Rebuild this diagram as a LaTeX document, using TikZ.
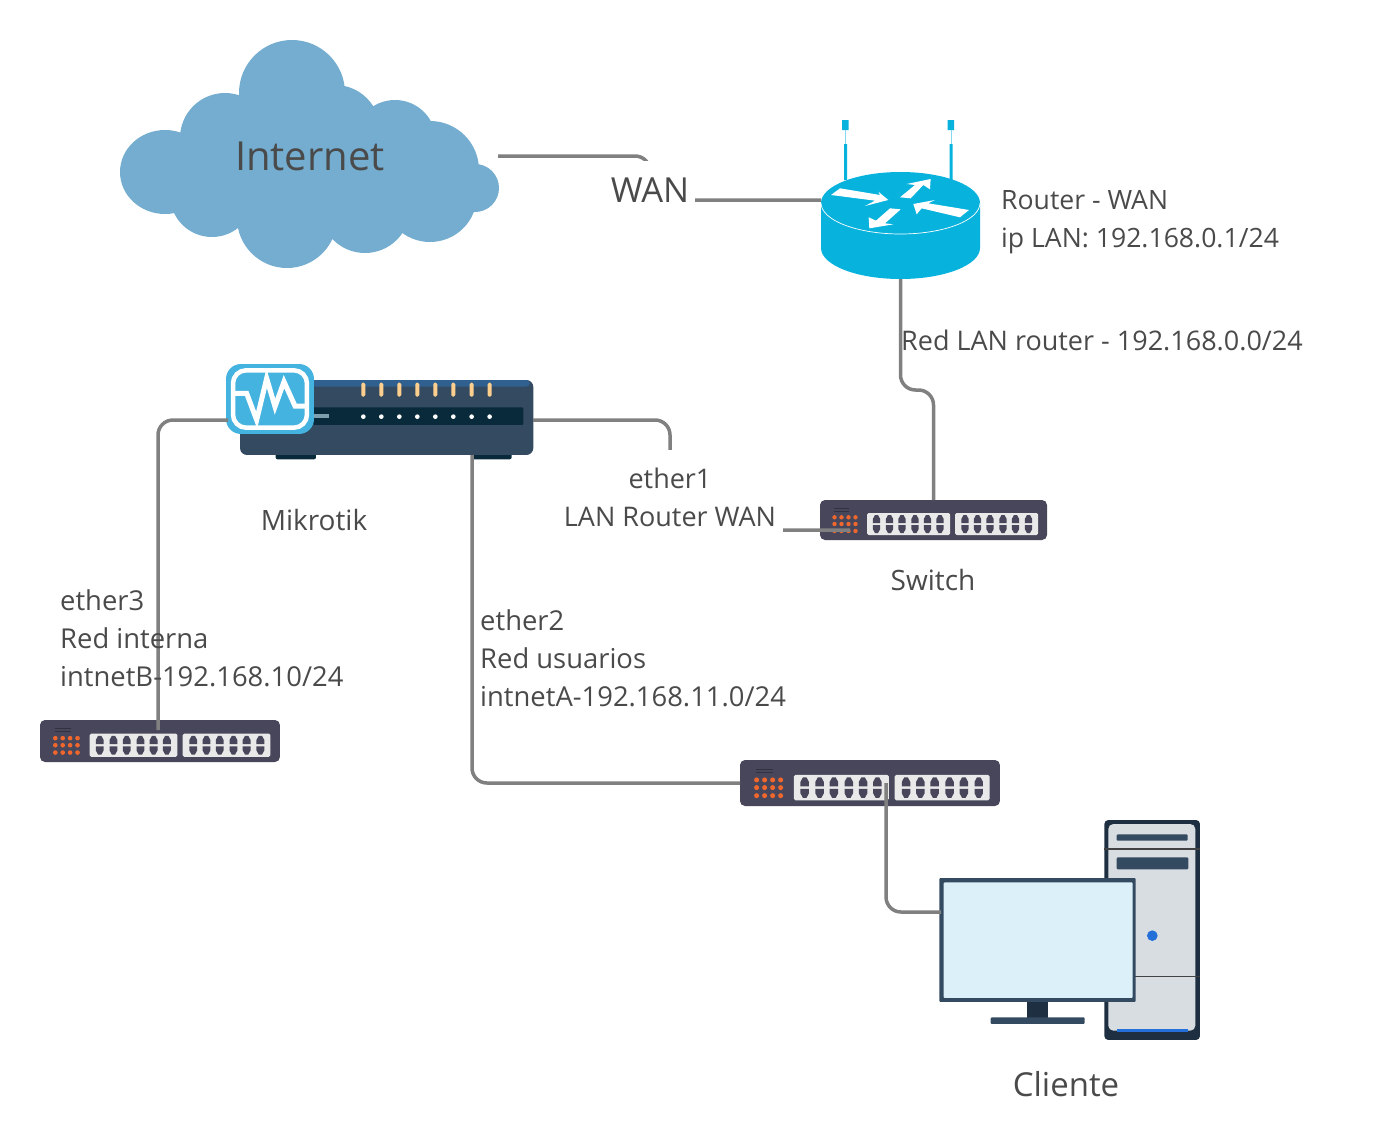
\documentclass[tikz,border=0pt]{standalone}
\usepackage{fontspec}
\setmainfont{Open Sans}
\usepackage{tikz}
\usetikzlibrary{positioning}
\definecolor{cloudblue}{HTML}{74ADCF}
\definecolor{routerblue}{HTML}{07B2DD}
\definecolor{linkgray}{HTML}{808080}
\definecolor{labelgray}{HTML}{4A4A4A}
\definecolor{switchbody}{HTML}{47465A}
\definecolor{switchpanel}{HTML}{E9E9E9}
\definecolor{switchdot}{HTML}{F0672E}
\definecolor{navy}{HTML}{344A61}
\definecolor{deepnavy}{HTML}{1E2F41}
\definecolor{barnavy}{HTML}{082A3B}
\definecolor{topstrip}{HTML}{2F6090}
\definecolor{ledorange}{HTML}{FCCF8E}
\definecolor{badgeblue}{HTML}{45B3E0}
\definecolor{towergray}{HTML}{D8DDE1}
\definecolor{screenblue}{HTML}{DCF0FA}
\definecolor{pilotblue}{HTML}{2470D8}
\tikzset{
    switch_icon/.pic={
        \fill[switchbody, rounded corners=5pt] (0,0) rectangle (227,40);
        \draw[switchbody!70!black, line width=0.5pt] (14,8) -- (29,8) (14,11) -- (29,11);
        \foreach \dotx in {14.5,21.5,28.5,35.5}
            \foreach \doty in {17.3,24,31}
                \fill[switchdot] (\dotx,\doty) circle (2.2);
        \fill[switchpanel, rounded corners=1.5pt] (47,13) rectangle (130,35);
        \fill[switchpanel, rounded corners=1.5pt] (135,13) rectangle (218,35);
        \foreach \portx in {56.5,69.5,82,95,107.5,120,145,157.5,170,183,195.5,208.5} {
            \fill[switchbody] (\portx-3.7,23) -- (\portx-3.7,19) -- (\portx-1.5,15) -- (\portx+1.5,15) -- (\portx+3.7,19) -- (\portx+3.7,23) -- cycle;
            \fill[switchbody] (\portx-3.7,25) -- (\portx-3.7,29) -- (\portx-1.5,33) -- (\portx+1.5,33) -- (\portx+3.7,29) -- (\portx+3.7,25) -- cycle;
        }
    },
}
\begin{document}
\begin{tikzpicture}[
        x=1pt, y=-1pt,
        link/.style={draw=linkgray, line width=3.5pt, rounded corners=15pt},
        device/.style={inner sep=0pt, outer sep=0pt},
        label/.style={text=labelgray, font=\fontsize{28}{38}\selectfont, align=left, inner sep=0pt},
        small_label/.style={label, font=\fontsize{27}{38}\selectfont},
        big_label/.style={text=labelgray, font=\fontsize{34.5}{44}\selectfont, inner sep=0pt},
    ]
    \useasboundingbox (0,0) rectangle (1380,1146);

    % cloud
    \fill[cloudblue] (292,93) circle (53) (165,172) ellipse (45 and 42) (225,138) circle (45)
        (335,130) circle (45) (395,141) circle (41) (430,170) circle (49)
        (475,188) circle (24) (212,195) circle (42) (287,218) circle (50)
        (365,208) circle (45) (430,195) circle (47) (300,160) ellipse (130 and 60);
    \node[big_label, font=\fontsize{40}{44}\selectfont, minimum width=376pt] (internet) at (310,156) {Internet};

    % router
    \node[device, minimum width=160pt, minimum height=107pt] (router) at (900.5,225.5) {};
    \coordinate (router_wan) at (821,200);
    \fill[routerblue] (842,120) rectangle (848.5,130) (947.5,120) rectangle (954,130);
    \fill[routerblue] (844,144) rectangle (847,180) (949.5,144) rectangle (952.5,180);
    \draw[routerblue!50, line width=0.8pt] (845.5,130) -- (845.5,144) (951,130) -- (951,144);
    \fill[routerblue] (821,203) arc[start angle=180, end angle=360, x radius=79.5, y radius=31]
        -- (980,248) arc[start angle=0, end angle=180, x radius=79.5, y radius=31] -- cycle;
    \draw[white, line width=0.7pt] (821,203) arc[start angle=180, end angle=0, x radius=79.5, y radius=31];
    \begin{scope}[shift={(800,110)}, x=0.3333pt, y=-0.3333pt]
        \fill[white] (93,255) -- (120,235) -- (240,255) -- (235,245) -- (265,270) -- (195,288) -- (225,272) -- cycle;
        \fill[white] (300,262) -- (345,225) -- (320,222) -- (392,207) -- (390,238) -- (370,225) -- (332,265) -- cycle;
        \fill[white] (340,282) -- (405,270) -- (385,280) -- (507,300) -- (480,322) -- (365,295) -- (350,313) -- cycle;
        \fill[white] (302,298) -- (255,340) -- (280,343) -- (208,355) -- (206,322) -- (228,332) -- (270,295) -- cycle;
    \end{scope}

    % mikrotik
    \node[device, minimum width=293pt, minimum height=76pt] (mikrotik) at (386.5,420) {};
    \coordinate (mikrotik_ether2) at (472,455);
    \coordinate (mikrotik_ether3) at (228,420);
    \begin{scope}[shift={(210,350)}, x=0.3333pt, y=-0.3333pt]
        \fill[barnavy, rounded corners=2pt] (197,305) rectangle (318,328) (785,305) rectangle (905,328);
        \fill[navy, rounded corners=7pt] (90,90) rectangle (970,315);
        \fill[topstrip, rounded corners=4pt] (300,90) rectangle (960,110);
        \fill[barnavy, rounded corners=1pt] (310,172) rectangle (940,225);
        \fill[cyan!30!gray] (310,193) rectangle (358,205);
        \foreach \ledx in {460,514,568,622,676,730,785,839} {
            \fill[ledorange, rounded corners=1.5pt] (\ledx-6,98) rectangle (\ledx+6,140);
            \fill[white] (\ledx,200) circle (7);
        }
        \fill[badgeblue, rounded corners=15pt] (48,42) rectangle (312,252);
        \draw[white, line width=4.5pt, rounded corners=13pt] (69,61) rectangle (291,233);
        \draw[white, line width=5pt, miter limit=10] (72,130) -- (110,130) -- (140,210) -- (170,85) -- (195,170) -- (222,95) -- (255,168) -- (290,168);
    \end{scope}

    % switches
    \node[device, minimum width=227pt, minimum height=40pt] (switch_wan) at (933.5,520) {};
    \node[device, minimum width=240pt, minimum height=42pt] (switch_int) at (160,741) {};
    \node[device, minimum width=260pt, minimum height=46pt] (switch_usr) at (870,783) {};
    \pic at (switch_wan.north west) {switch_icon};
    \pic[xscale=1.057, yscale=1.05] at (switch_int.north west) {switch_icon};
    \pic[xscale=1.145, yscale=1.15] at (switch_usr.north west) {switch_icon};
    \coordinate (switch_wan_port) at (850,530);
    \coordinate (switch_int_port) at (158,730);
    \coordinate (switch_usr_port) at (886,783);

    % cliente
    \node[device, minimum width=197pt, minimum height=124pt] (monitor) at (1038,940) {};
    \coordinate (monitor_port) at (941,912);
    \begin{scope}[shift={(920,810)}, x=0.3333pt, y=-0.3333pt]
        \fill[deepnavy, rounded corners=4pt] (553,30) rectangle (840,690);
        \fill[towergray, rounded corners=5pt] (565,42) rectangle (826,662);
        \fill[navy, rounded corners=1pt] (590,73) rectangle (803,92);
        \fill[navy, rounded corners=1pt] (590,142) rectangle (805,178);
        \draw[black!70!towergray, line width=1.5pt] (553,117) -- (840,117) (553,500) -- (840,500);
        \fill[pilotblue] (697,377) circle (16);
        \fill[pilotblue] (590,657) rectangle (805,666);
        \fill[deepnavy] (322,570) rectangle (385,625);
        \fill[navy, rounded corners=1pt] (212,622) rectangle (494,642);
        \fill[navy, rounded corners=1pt] (58,204) rectangle (647,576);
        \fill[screenblue, rounded corners=1pt] (71,217) rectangle (638,564);
    \end{scope}

    % links
    \draw[link] (internet.east) -- (650,156) |- (router_wan);
    \draw[link] (router.south) -- (900.5,390) -| (switch_wan.north);
    \draw[link] (mikrotik.east) -- (670,420) |- (switch_wan_port);
    \draw[link] (mikrotik_ether3) -| (switch_int_port);
    \draw[link] (mikrotik_ether2) |- (switch_usr.west);
    \draw[link] (switch_usr_port) |- (monitor_port);

    % labels
    \node[big_label, fill=white, inner sep=6pt, minimum height=58pt] (wan_label) at (650,190) {WAN};
    \node[small_label, font=\fontsize{26.6}{38}\selectfont, anchor=west] (router_label) at (1001,222) {Router - WAN\\ip LAN: 192.168.0.1/24};
    \node[small_label, anchor=west] (lan_label) at (901,340) {Red LAN router - 192.168.0.0/24};
    \node[small_label, align=center, fill=white, inner xsep=7pt, inner ysep=18pt] (ether1_label) at (670,497) {ether1\\LAN Router WAN};
    \node[label] (mikrotik_label) at (314,520) {Mikrotik};
    \node[label] (switch_label) at (933,580) {Switch};
    \node[small_label, font=\fontsize{27.4}{38}\selectfont, anchor=west] (ether3_label) at (60,638) {ether3\\Red interna\\intnetB-192.168.10/24};
    \node[small_label, font=\fontsize{27.4}{38}\selectfont, anchor=west] (ether2_label) at (480,658) {ether2\\Red usuarios\\intnetA-192.168.11.0/24};
    \node[big_label, font=\fontsize{33}{40}\selectfont] (cliente_label) at (1066,1084) {Cliente};
\end{tikzpicture}
\end{document}
